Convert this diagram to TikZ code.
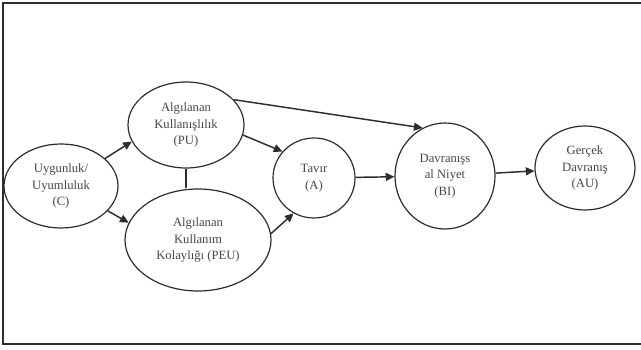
\documentclass[tikz,border=0pt]{standalone}
\usepackage{fontspec}
\setmainfont{Liberation Serif}
\usepackage{tikz}
\usetikzlibrary{arrows.meta,positioning,shapes.geometric}
\usepackage{xcolor}
\definecolor{ink}{RGB}{45,45,45}
\definecolor{txt}{RGB}{70,70,70}
\tikzset{
  blob/.style={draw=ink,ellipse,line width=0.9pt,inner sep=0pt,align=center,
    text=txt,font=\fontsize{9.5}{12.4}\selectfont},
  arr/.style={-{Triangle[length=6.5pt,width=6pt]},line width=1.1pt,draw=ink},
  lnk/.style={line width=1.1pt,draw=ink},
  frame/.style={line width=1.1pt,draw=ink},
}
\begin{document}
\begin{tikzpicture}[x=0.75pt,y=0.75pt]
  \useasboundingbox (0,0) rectangle (641,349);
  \draw[frame] (641,346) -- (3,346) -- (3,5) -- (641,5);
  \node[blob,minimum width=85.5pt,minimum height=63pt] (C) at (61,163)
    {Uygunluk/\\ Uyumluluk\\ (C)};
  \node[blob,minimum width=87pt,minimum height=64.5pt] (PU) at (186,224)
    {Algılanan\\ Kullanışlılık\\ (PU)};
  \node[blob,minimum width=109.5pt,minimum height=76.5pt] (PEU) at (198,109)
    {Algılanan\\ Kullanım\\ Kolaylığı (PEU)};
  \node[blob,minimum width=61.5pt,minimum height=60pt] (A) at (314,171)
    {Tavır\\ (A)};
  \node[blob,minimum width=75pt,minimum height=79.5pt] (BI) at (445,173)
    {Davranışs\\ al Niyet\\ (BI)};
  \node[blob,minimum width=75pt,minimum height=63pt] (AU) at (585,181)
    {Gerçek\\ Davranış\\ (AU)};
  \draw[arr] (C.32) -- (PU.197);
  \draw[arr] (C.-28) -- (PEU.166);
  \draw[lnk] (PU.south) -- (PEU.north -| PU.south);
  \draw[arr] (PU.-10) -- (A.140);
  \draw[arr] (PEU.5) -- (A.240);
  \draw[arr] (PU.28) -- (BI.115);
  \draw[arr] (A) -- (BI);
  \draw[arr] (BI) -- (AU);
\end{tikzpicture}
\end{document}
